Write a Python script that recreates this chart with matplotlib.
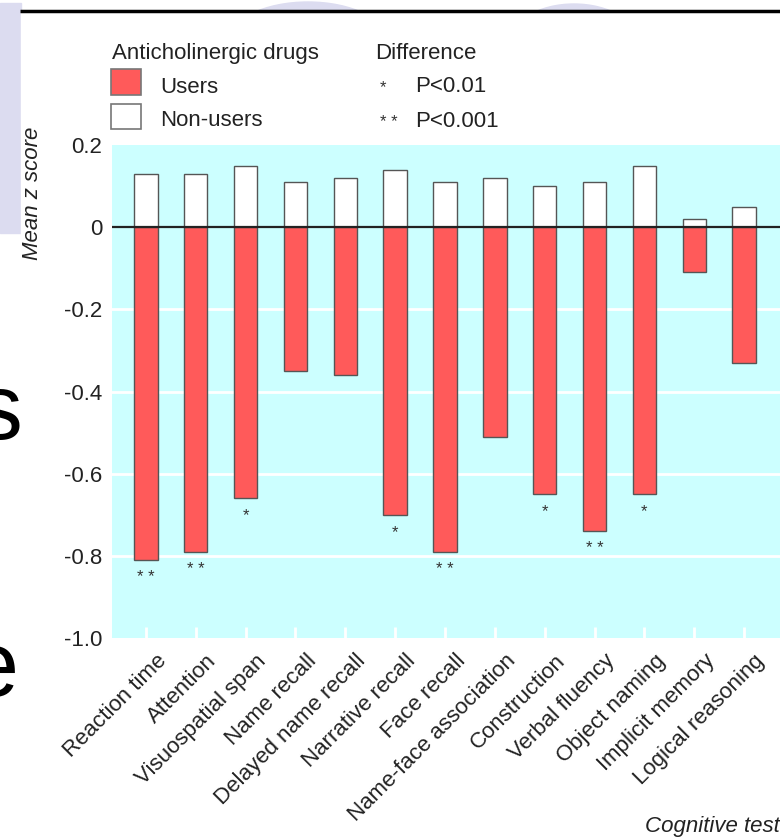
import matplotlib
matplotlib.use("Agg")
import numpy as np
import matplotlib.pyplot as plt
from matplotlib.patches import Rectangle, Ellipse
from matplotlib.transforms import ScaledTranslation

plt.rcParams['font.family'] = ['Liberation Sans', 'DejaVu Sans']

# data
tests = ["Reaction time", "Attention", "Visuospatial span", "Name recall",
         "Delayed name recall", "Narrative recall", "Face recall",
         "Name-face association", "Construction", "Verbal fluency",
         "Object naming", "Implicit memory", "Logical reasoning"]
non_users = [0.13, 0.13, 0.15, 0.11, 0.12, 0.14, 0.11, 0.12, 0.10, 0.11, 0.15, 0.02, 0.05]
users = [-0.81, -0.79, -0.66, -0.35, -0.36, -0.70, -0.79, -0.51, -0.65, -0.74, -0.65, -0.11, -0.33]
signif = ["* *", "* *", "*", "", "", "*", "* *", "", "*", "* *", "*", "", ""]
yticks = [0.2, 0, -0.2, -0.4, -0.6, -0.8, -1.0]
ytick_labels = ["0.2", "0", "-0.2", "-0.4", "-0.6", "-0.8", "-1.0"]

RED = '#ff5a5a'
CYAN = '#ccffff'
LAV = '#dcdcf0'
EDGE = '#555555'
TXT = '#222222'

W, H = 780, 840
fig = plt.figure(figsize=(W / 100, H / 100), dpi=100)
fig.patch.set_facecolor('white')

# background layer in pixel coords (slide bits behind the chart)
bg = fig.add_axes([0, 0, 1, 1], zorder=-1)
bg.set_xlim(0, W)
bg.set_ylim(H, 0)
bg.axis('off')
bg.add_patch(Ellipse((308, 42), 160, 80, color=LAV))
bg.add_patch(Ellipse((574, 44), 130, 80, color=LAV))
bg.add_patch(Rectangle((0, 3), 21, 230, color=LAV))
bg.add_patch(Rectangle((21, 12), W - 21, H - 12, color='white'))
bg.plot([20, W], [11, 11], color='black', lw=2.5, solid_capstyle='butt')
# big slide letters, clipped by the left edge as in the screenshot
bg.text(22, 439, 's', fontsize=66, ha='right', va='baseline')
bg.text(18, 696, 'e', fontsize=66, ha='right', va='baseline')

# legend
fs = 16
bg.text(112, 59, 'Anticholinergic drugs', fontsize=fs, va='baseline', color=TXT)
bg.add_patch(Rectangle((111, 69), 30, 26, fc=RED, ec='#777', lw=1.2))
bg.add_patch(Rectangle((111, 104), 30, 25, fc='white', ec='#777', lw=1.2))
bg.text(160, 93, 'Users', fontsize=fs, va='baseline', color=TXT)
bg.text(160, 126, 'Non-users', fontsize=fs, va='baseline', color=TXT)
bg.text(375, 59, 'Difference', fontsize=fs, va='baseline', color=TXT)
bg.text(383, 92, '*', fontsize=12, va='baseline', ha='center', color='#333')
bg.text(389, 127, '* *', fontsize=12, va='baseline', ha='center', color='#333')
bg.text(415, 92, 'P<0.01', fontsize=fs, va='baseline', color=TXT)
bg.text(415, 127, 'P<0.001', fontsize=fs, va='baseline', color=TXT)

bg.text(33, 193, 'Mean z score', fontsize=fs, style='italic', rotation=90,
        ha='center', va='center', color=TXT)
bg.text(645, 832, 'Cognitive test', fontsize=fs, style='italic', va='baseline', color=TXT)

# main chart
left, top, bottom = 112, 145, 638
ax = fig.add_axes([left / W, 1 - bottom / H, 1 - left / W, (bottom - top) / H])
ax.set_facecolor(CYAN)
for s in ax.spines.values():
    s.set_visible(False)

x = np.arange(len(tests))
ax.bar(x, non_users, width=0.47, color='white', edgecolor=EDGE, lw=1, zorder=2)
ax.bar(x, users, width=0.47, color=RED, edgecolor=EDGE, lw=1, zorder=2)
for yv in yticks[2:-1]:
    ax.axhline(yv, color='white', lw=2, zorder=1)
ax.axhline(0, color=TXT, lw=1.6, zorder=3)

for i, s in enumerate(signif):
    if s:
        ax.annotate(s, (x[i], users[i]), xytext=(0, -22), textcoords='offset pixels',
                    ha='center', va='baseline', fontsize=12, color='#333')

ax.set_xlim(-0.68, 12.72)
ax.set_ylim(-1.0, 0.2)
ax.set_yticks(yticks)
ax.set_yticklabels(ytick_labels, fontsize=fs, color=TXT)
ax.tick_params(axis='y', length=0, pad=7)
ax.set_xticks(x)
ax.set_xticklabels(tests, rotation=45, ha='right', va='top', rotation_mode='anchor',
                   fontsize=fs, color=TXT)
ax.tick_params(axis='x', direction='in', color='white', length=8, width=2, pad=9)
for lab in ax.get_xticklabels():
    lab.set_transform(lab.get_transform() + ScaledTranslation(0.10, 0, fig.dpi_scale_trans))

fig.savefig('out.png', dpi=100)
